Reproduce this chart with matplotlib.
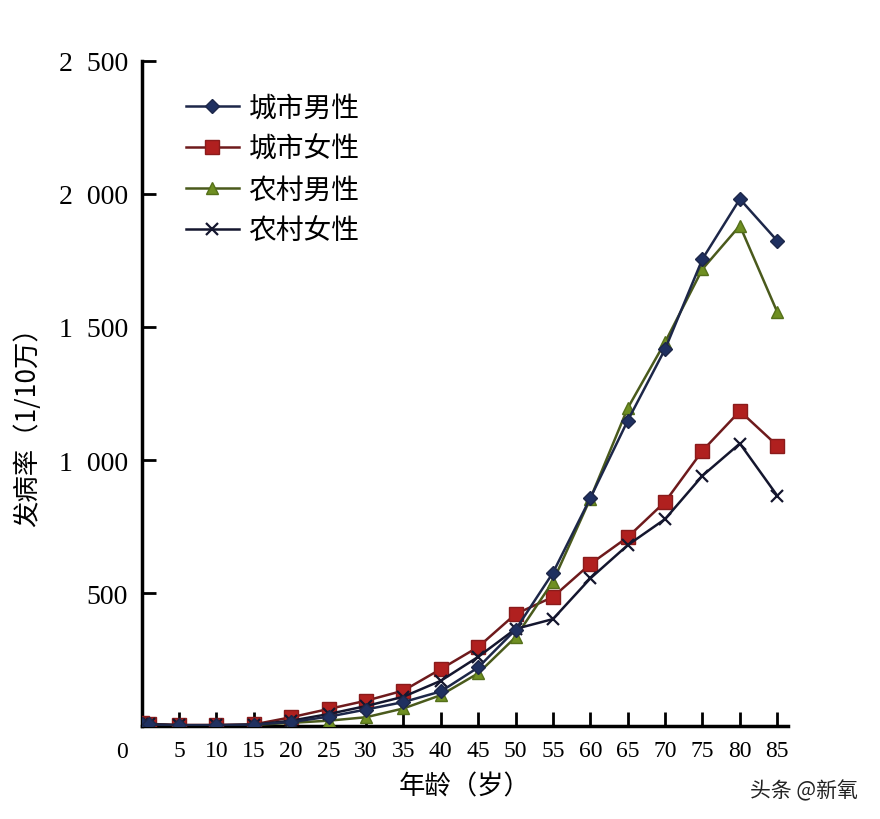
import matplotlib
matplotlib.use('Agg')
import matplotlib.pyplot as plt

plt.rcParams['font.family'] = ['Liberation Serif', 'Noto Sans CJK SC', 'DejaVu Sans']

ages = [0, 1, 5, 10, 15, 20, 25, 30, 35, 40, 45, 50, 55, 60, 65, 70, 75, 80, 85]

city_male = [8, 6, 3, 3, 5, 15, 35, 62, 90, 130, 220, 362, 576, 857, 1148, 1417, 1756, 1981, 1824]
city_female = [10, 8, 4, 4, 6, 33, 64, 95, 133, 214, 297, 421, 485, 609, 710, 843, 1035, 1184, 1054]
rural_male = [7, 5, 2, 2, 4, 12, 20, 33, 66, 116, 198, 334, 543, 855, 1195, 1443, 1718, 1881, 1556]
rural_female = [9, 6, 3, 3, 5, 20, 45, 75, 110, 170, 260, 365, 402, 555, 680, 778, 941, 1062, 866]

series_names = ['城市男性', '城市女性', '农村男性', '农村女性']

xticks = [5, 10, 15, 20, 25, 30, 35, 40, 45, 50, 55, 60, 65, 70, 75, 80, 85]
yticks = [500, 1000, 1500, 2000, 2500]
ytick_labels = ['500', '1  000', '1  500', '2  000', '2  500']

fig = plt.figure(figsize=(8.8, 8.2), dpi=100)
ax = fig.add_axes([0.161, 0.1134, 0.735, 0.811])

ax.plot(ages, city_male, color='#1d2749', lw=1.8, marker='D', ms=7,
        mfc='#1f3060', mec='#1d2749', label=series_names[0], zorder=4)
ax.plot(ages, city_female, color='#6e1a1c', lw=1.8, marker='s', ms=10,
        mfc='#b0201f', mec='#8a1b1b', label=series_names[1], zorder=3)
ax.plot(ages, rural_male, color='#4a5a1c', lw=1.8, marker='^', ms=9,
        mfc='#6f8f22', mec='#55701a', label=series_names[2], zorder=3)
ax.plot(ages, rural_female, color='#14162e', lw=1.8, marker='x', ms=9,
        mew=1.6, label=series_names[3], zorder=3)

ax.set_xlim(0, 86.5)
ax.set_ylim(0, 2500)
ax.set_xticks(xticks)
ax.set_xticklabels([str(t) for t in xticks], fontsize=17)
ax.set_yticks(yticks)
ax.set_yticklabels(ytick_labels, fontsize=20)
ax.tick_params(axis='both', direction='in', length=10, width=2, colors='black')
ax.tick_params(axis='x', pad=10)
ax.tick_params(axis='y', pad=10)

for s in ['top', 'right']:
    ax.spines[s].set_visible(False)
for s in ['left', 'bottom']:
    ax.spines[s].set_linewidth(2.5)

ax.annotate('0', xy=(0, 0), xytext=(-14, -18), textcoords='offset points',
            fontsize=17, ha='center', va='center')

ax.set_xlabel('年龄（岁）', fontsize=19, family=['Noto Sans CJK SC'], labelpad=8)
ax.set_ylabel('发病率（1/10万）', fontsize=19, family=['Noto Sans CJK SC'])
ax.yaxis.set_label_coords(-0.155, 0.46)

leg = ax.legend(loc='upper left', bbox_to_anchor=(0.03, 0.99), frameon=False,
                prop={'family': 'Noto Sans CJK SC', 'size': 20},
                handlelength=1.9, labelspacing=0.4, handletextpad=0.35)

fig.text(0.975, 0.035, '头条 @新氧', fontsize=15, ha='right', va='center',
         family=['Noto Sans CJK SC'], color='#222222')

fig.savefig('out.png', dpi=100, facecolor='white')
